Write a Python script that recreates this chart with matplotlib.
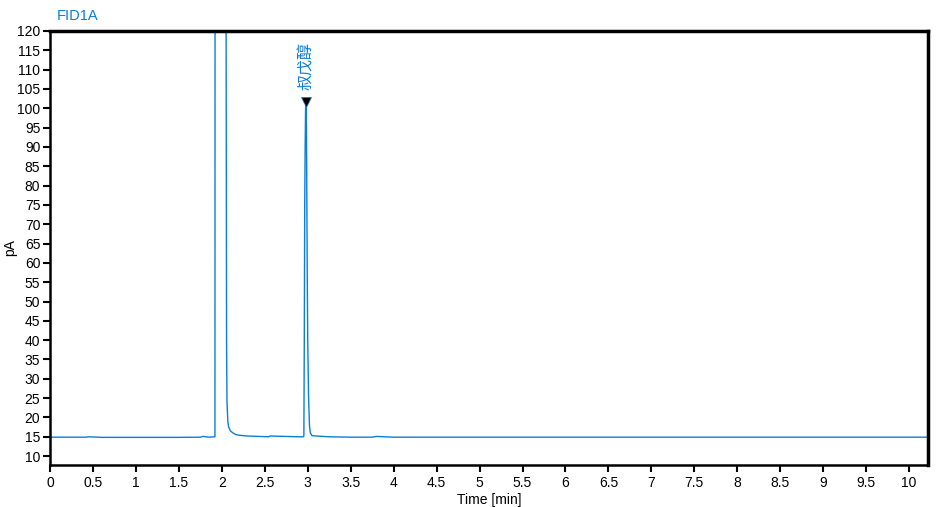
import numpy as np
from matplotlib import pyplot as plt

plt.rcParams['font.family'] = ['Liberation Sans', 'DejaVu Sans']

# chromatogram trace (time in min, signal in pA)
time = [0.0, 0.3, 0.42, 0.45, 0.6, 1.0, 1.5, 1.75, 1.78, 1.85, 1.92, 1.921, 1.925,
        2.04, 2.05, 2.055, 2.06, 2.07, 2.08, 2.1, 2.13, 2.16, 2.2, 2.3, 2.55, 2.56,
        2.9, 2.95, 2.951, 2.955, 2.96, 2.965, 2.97, 2.975, 2.98, 2.985, 2.99, 2.995,
        3.0, 3.01, 3.02, 3.03, 3.05, 3.1, 3.25, 3.5, 3.75, 3.8, 4.0, 10.22]
signal = [14.9, 14.9, 14.9, 15.0, 14.85, 14.85, 14.85, 14.9, 15.1, 14.9, 15.0, 106.0, 500.0,
          500.0, 120.0, 40.0, 24.0, 19.0, 17.5, 16.5, 16.0, 15.6, 15.4, 15.2, 15.0, 15.2,
          15.0, 15.0, 15.0, 15.2, 40.0, 75.0, 90.0, 100.0, 101.0, 95.0, 75.0, 55.0,
          40.0, 25.0, 18.0, 16.0, 15.3, 15.2, 15.0, 14.9, 14.9, 15.1, 14.9, 14.9]

peak_time = 2.98
peak_height = 101.5
peak_name = "叔戊醇"

blue = "#0a7fd6"

fig = plt.figure(figsize=(9.38, 5.07), dpi=100)
ax = fig.add_axes([50 / 938, 1 - 465 / 507, 878 / 938, 434 / 507])
ax.plot(time, signal, color=blue, linewidth=1.0)

ax.plot(peak_time, peak_height, marker="v", color="black", markersize=7,
        markeredgecolor=blue, markeredgewidth=0.5, clip_on=False)
ax.text(peak_time, peak_height + 3.3, peak_name, rotation=90, color=blue,
        ha="center", va="bottom", fontsize=11.5,
        family=["Noto Sans CJK SC", "DejaVu Sans"])

ax.set_xlim(0, 10.22)
ax.set_ylim(7.7, 120)
ax.set_xticks(np.arange(0, 10.01, 0.5))
ax.set_xticklabels([f"{v:g}" for v in np.arange(0, 10.01, 0.5)])
ax.set_yticks(np.arange(10, 121, 5))
ax.tick_params(direction="out", length=5, width=1.5, labelsize=10, colors="black")
ax.tick_params(axis="x", pad=3)
ax.tick_params(axis="y", pad=2)

for side in ["left", "bottom"]:
    ax.spines[side].set_linewidth(1.8)
for side in ["top", "right"]:
    ax.spines[side].set_linewidth(2.5)

ax.set_xlabel("Time [min]", fontsize=10, labelpad=2)
ax.set_ylabel("pA", fontsize=10, labelpad=0)
fig.text(57 / 938, 1 - 16 / 507, "FID1A", color=blue, fontsize=10.5, va="center")

fig.savefig("out.png", dpi=100)
